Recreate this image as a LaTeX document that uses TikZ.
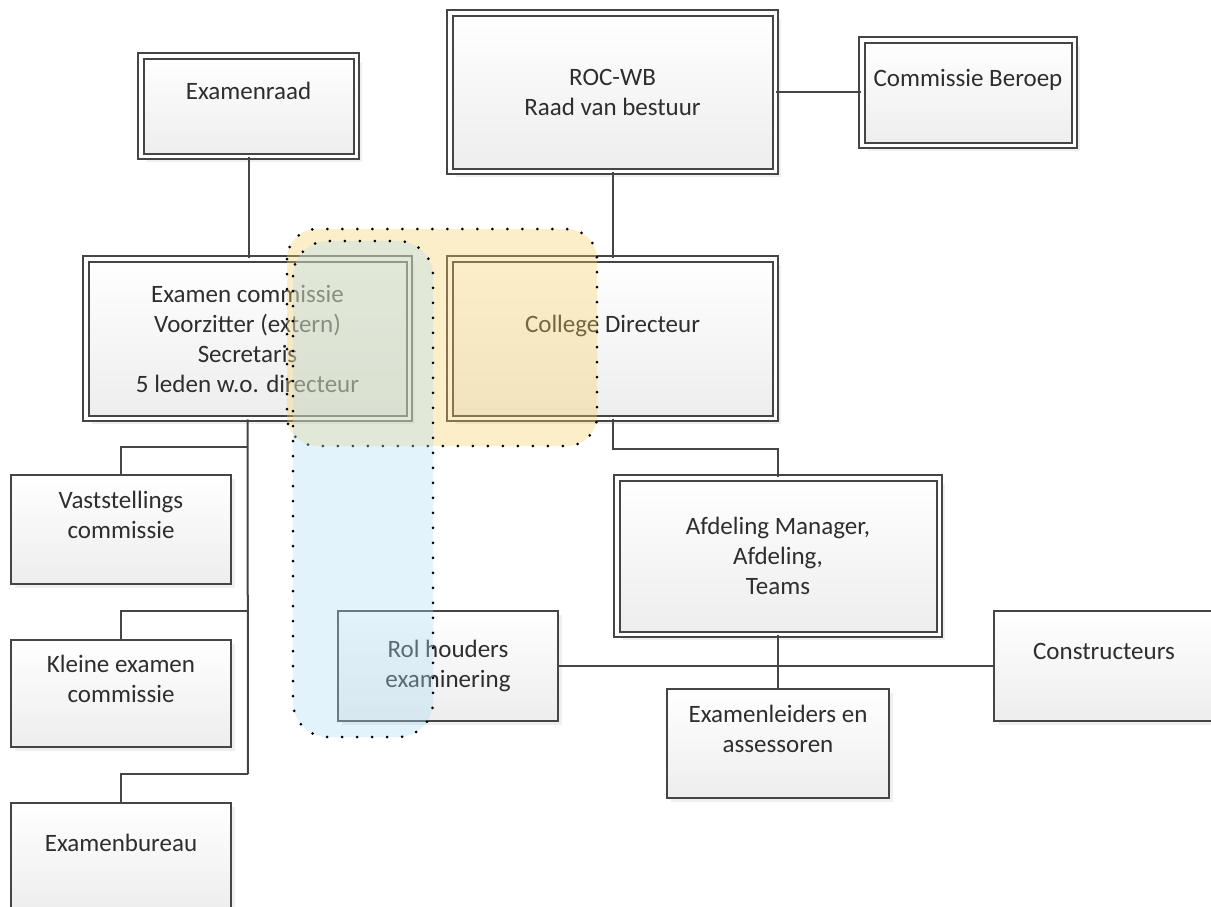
\documentclass[tikz,border=0pt]{standalone}
\usepackage{fontspec}
\setmainfont{Carlito}
\usetikzlibrary{shadows}
\definecolor{linec}{HTML}{454545}
\definecolor{txtc}{HTML}{2E2E2E}
\definecolor{orangeov}{HTML}{F9D165}
\definecolor{blueov}{HTML}{AFDDF6}
\begin{document}
\begin{tikzpicture}[x=1pt,y=-1pt,
  box/.style={draw=linec, line width=2pt, top color=white, bottom color=black!7,
    text=txtc, font=\fontsize{25}{30}\selectfont, align=center, inner sep=0pt,
    drop shadow={shadow xshift=4pt, shadow yshift=-4pt, fill=black!12}},
  dbox/.style={box, line width=2pt, double=white, double distance=3.5pt,
    drop shadow={shadow xshift=6pt, shadow yshift=-6pt, fill=black!12}},
  conn/.style={draw=linec, line width=2pt},
  ovl/.style={draw=black, line width=3pt, line cap=round, dash pattern=on 0pt off 15pt,
    fill opacity=0.35, draw opacity=1}
]
\fill[white] (0,0) rectangle (1211,906);
\useasboundingbox (0,0) rectangle (1211,906);

% double-bordered boxes
\node[dbox, minimum width=215.5pt, minimum height=100.5pt] (er) at (248.5,106) {Examenraad\\\mbox{}};
\node[dbox, minimum width=325.5pt, minimum height=158.5pt] (roc) at (612.5,92) {ROC-WB\\Raad van bestuur};
\node[dbox, minimum width=212.5pt, minimum height=105.5pt] (cb) at (968,92.5) {Commissie Beroep\\\mbox{}};
\node[dbox, minimum width=323.5pt, minimum height=159.5pt] (ec) at (247.5,338.5) {Examen commissie\\Voorzitter (extern)\\Secretaris\\5 leden w.o. directeur};
\node[dbox, minimum width=325.5pt, minimum height=159.5pt] (cd) at (612.5,338.5) {College Directeur\\\mbox{}};
\node[dbox, minimum width=322.5pt, minimum height=156.5pt] (af) at (778,556) {Afdeling Manager,\\Afdeling,\\Teams};

% single-bordered boxes
\node[box, minimum width=220pt, minimum height=109pt] (vs) at (121,529.5) {Vaststellings\\commissie\\\mbox{}};
\node[box, minimum width=220pt, minimum height=107pt] (ke) at (121,693.5) {Kleine examen\\commissie\\\mbox{}};
\node[box, minimum width=220pt, minimum height=109pt] (eb) at (121,857.5) {Examenbureau\\\mbox{}};
\node[box, minimum width=220pt, minimum height=110pt] (rh) at (448,666) {Rol houders\\examinering};
\node[box, minimum width=222pt, minimum height=109pt] (el) at (778,743.5) {Examenleiders en\\assessoren\\\mbox{}};
\node[box, minimum width=220pt, minimum height=110pt] (co) at (1104,666) {Constructeurs\\\mbox{}};

% junctions
\coordinate (j1) at (248,447);
\coordinate (j2) at (248,611);
\coordinate (j3) at (248,774);
\coordinate (k1) at (612.5,449);

% connectors
\draw[conn] (er.south) -- (er.south |- ec.north);
\draw[conn] (roc.south) -- (cd.north);
\draw[conn] (roc.east) -- (roc.east -| cb.west);
\draw[conn] (ec.south) -- (j3);
\draw[conn] (j1) -| (vs.north);
\draw[conn] (j2) -| (ke.north);
\draw[conn] (j3) -| (eb.north);
\draw[conn] (cd.south) -- (k1) -| (af.north);
\draw[conn] (af.south) -- (af.south |- el.north);
\draw[conn] (rh.east) -- (co.west);

% overlays
\draw[ovl, fill=orangeov, rounded corners=30pt] (287,229) rectangle (597,446);
\draw[ovl, fill=blueov, rounded corners=35pt] (293,241) rectangle (433,737);
\end{tikzpicture}
\end{document}
